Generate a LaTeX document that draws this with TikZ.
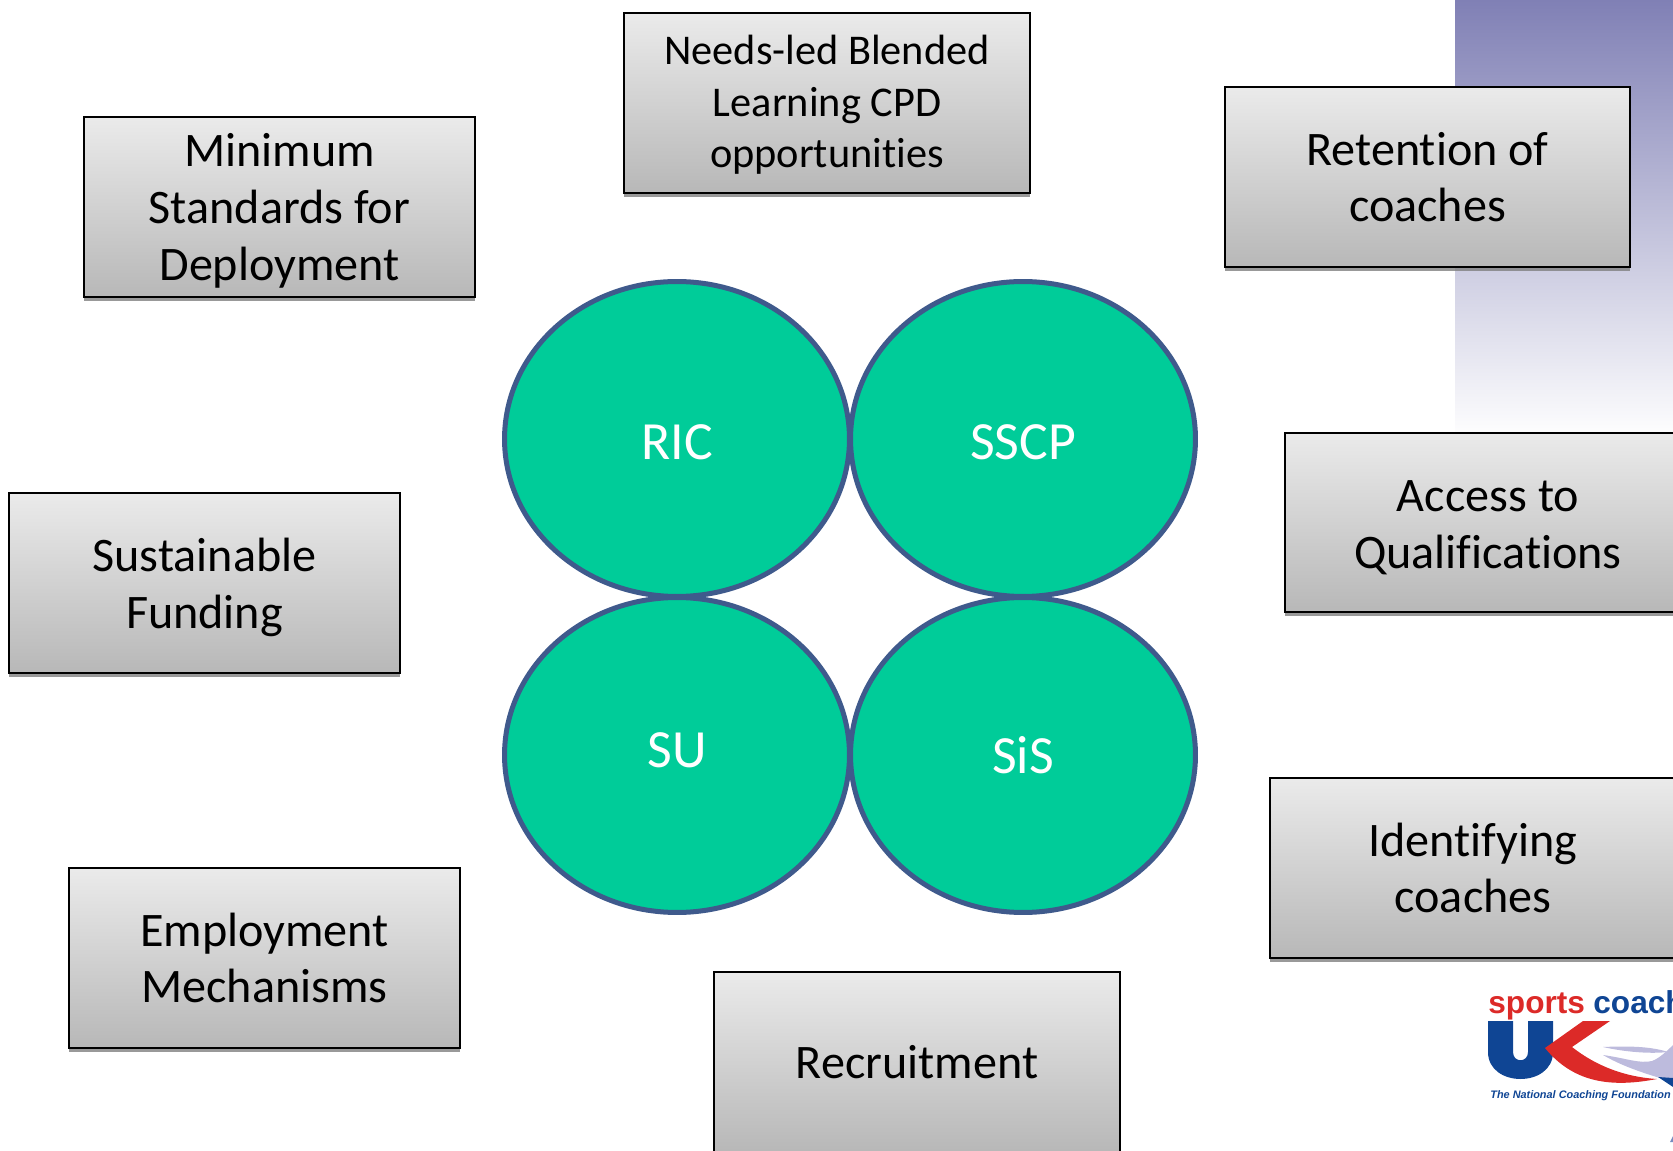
\documentclass[tikz,border=0pt]{standalone}
\usepackage{fontspec}
\setmainfont[Ligatures=NoCommon]{Carlito}
\newfontfamily\logofont{Liberation Sans}
\newcommand{\topgap}[1]{\rule{0pt}{#1}}
\usetikzlibrary{shapes.geometric,shadows}
\definecolor{panelblue}{HTML}{8080B5}
\definecolor{hubgreen}{HTML}{00CC99}
\definecolor{hubedge}{HTML}{3F5A8C}
\definecolor{logoblue}{HTML}{0F4594}
\definecolor{logored}{HTML}{DC2A28}
\definecolor{logowing}{HTML}{BDBBDD}
\begin{document}
\begin{tikzpicture}[x=0.02cm,y=-0.02cm,
  theme/.style={draw=black,line width=0.04cm,top color=black!8,bottom color=black!28,align=center,inner sep=0pt,
    minimum width=7.82cm,minimum height=3.6cm,drop shadow={shadow xshift=0cm,shadow yshift=-0.08cm,fill=black!50,opacity=0.8},
    font=\fontsize{27.4}{32.3}\selectfont},
  wide/.style={minimum width=8.14cm},
  smalltext/.style={font=\fontsize{24.1}{29.3}\selectfont},
  hub/.style={ellipse,draw=hubedge,line width=0.1cm,fill=hubgreen,text=white,inner sep=0pt,
    minimum width=6.9cm,minimum height=6.3cm,font=\fontsize{30.6}{36}\selectfont},
  logotext/.style={anchor=base west,inner sep=0pt,font=\logofont\bfseries\fontsize{18}{20}\selectfont}]
\useasboundingbox (0,0) rectangle (1673,1151);
\shade[top color=panelblue,middle color=panelblue!42!white,bottom color=white] (1455,0) rectangle (1673,440);
\node[theme] (minstandards) at (279.5,207) {\topgap{0.82cm}Minimum\\Standards for\\Deployment};
\node[theme,wide,smalltext] (cpd) at (827,103) {\topgap{0.67cm}Needs-led Blended\\Learning CPD\\opportunities};
\node[theme,minimum width=8.1cm] (retention) at (1427.5,177) {Retention of\\coaches};
\node[theme,wide] (access) at (1488,522.5) {\topgap{0.82cm}Access to\\Qualifications};
\node[theme] (funding) at (204.5,583) {\topgap{0.84cm}Sustainable\\Funding};
\node[theme,wide] (identifying) at (1473,868) {Identifying\\coaches};
\node[theme] (employment) at (264.5,958) {Employment\\Mechanisms};
\node[theme,wide] (recruitment) at (917,1062) {Recruitment};
\node[hub] (ric) at (677,439) {\topgap{0.82cm}RIC};
\node[hub] (sscp) at (1023,439) {\topgap{0.82cm}SSCP};
\node[hub] (su) at (677,755) {\raisebox{0.2cm}{SU}};
\node[hub] (sis) at (1023,755) {SiS};
\node[logotext,text=logored] (sports) at (1488,1013) {sports};
\node[logotext,text=logoblue] (coach) at (1593,1013) {coach};
\fill[logoblue] (1488,1021)--(1513,1021)--(1513,1052) .. controls (1513,1063) and (1528,1063) .. (1528,1052)--(1528,1021)--(1553,1021)--(1553,1052) .. controls (1553,1088) and (1488,1088) .. (1488,1052)--cycle;
\fill[logored] (1545,1048)--(1583,1021)--(1610,1021)--(1572,1047) .. controls (1596,1066) and (1625,1077) .. (1657,1079) .. controls (1615,1087) and (1575,1085) .. (1545,1048)--cycle;
\fill[logowing] (1603,1047) .. controls (1625,1046) and (1650,1046) .. (1668,1052) .. controls (1650,1054) and (1625,1052) .. (1603,1047)--cycle;
\fill[logowing] (1603,1055) .. controls (1625,1058) and (1640,1064) .. (1652,1061) .. controls (1660,1058) and (1668,1050) .. (1673,1045)--(1673,1078)--(1660,1078) .. controls (1640,1072) and (1620,1065) .. (1603,1055)--cycle;
\fill[logoblue] (1658,1077)--(1673,1078)--(1673,1087)--cycle;
\fill[logowing!60!logoblue] (1670,1142)--(1673,1136)--(1673,1142)--cycle;
\node[anchor=base west,inner sep=0pt,text=logoblue,font=\logofont\bfseries\itshape\fontsize{6.2}{7}\selectfont] (foundation) at (1490,1098) {The National Coaching Foundation};
\end{tikzpicture}
\end{document}
